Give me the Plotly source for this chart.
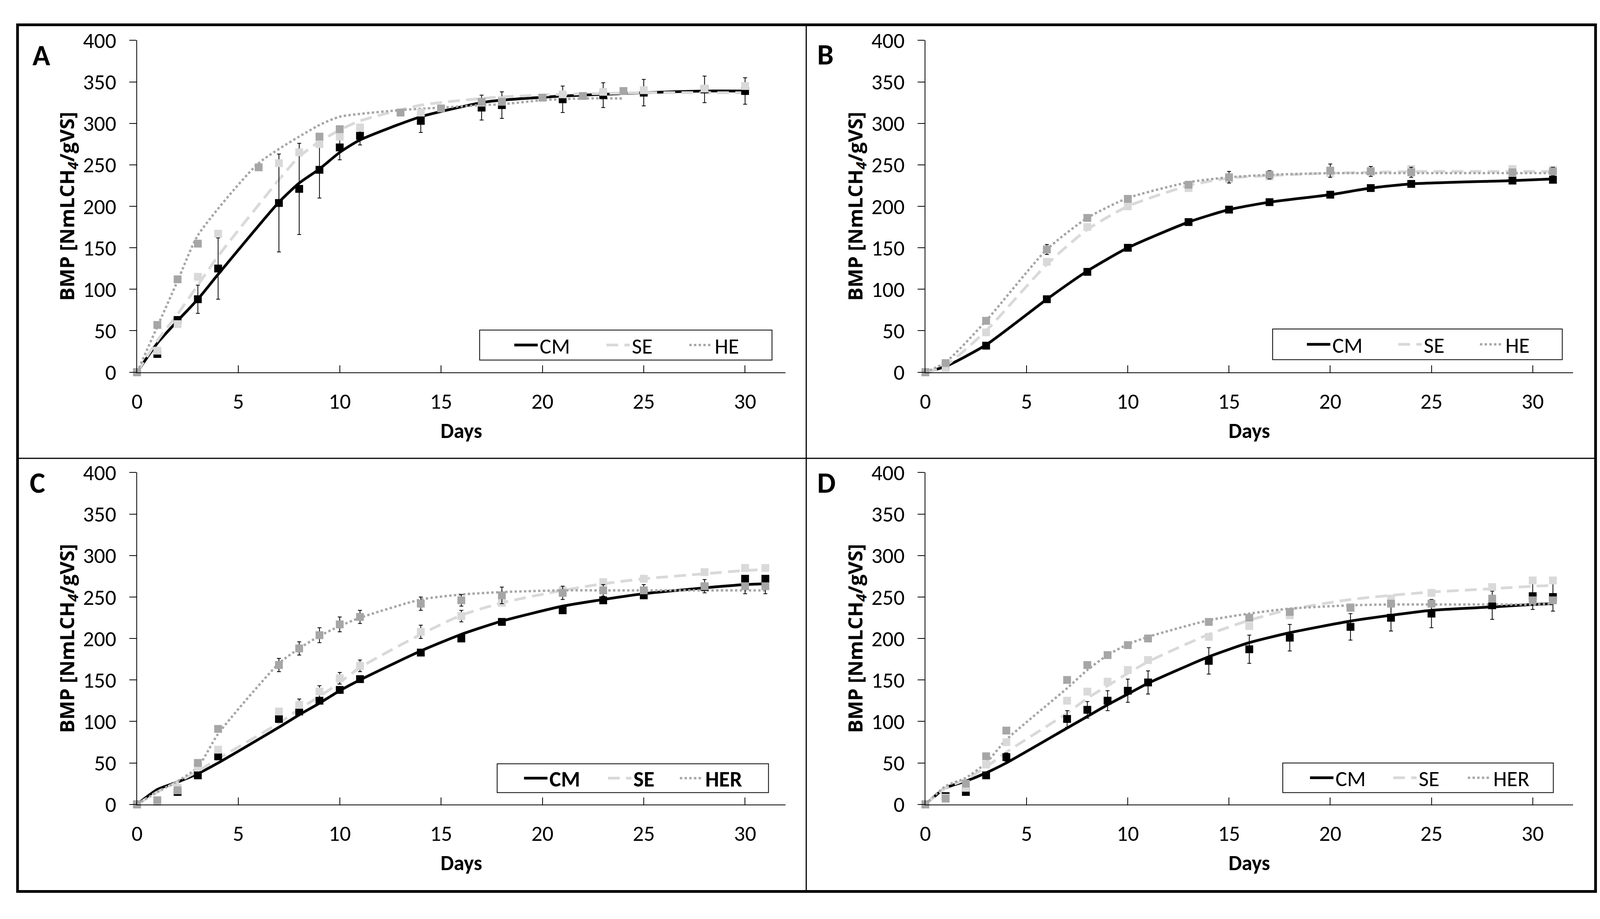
import plotly.graph_objects as go

W, H = 4126, 2352

# ---------------- DATA ----------------
# Panel A
a_days = [0, 1, 2, 3, 4, 7, 8, 9, 10, 11, 14, 17, 18, 21, 23, 25, 28, 30]
a_cm = [0, 22, 63, 88, 125, 204, 221, 244, 271, 285, 303, 319, 322, 329, 334, 337, 341, 339]
a_cm_err = [0, 0, 0, 17, 37, 59, 55, 34, 15, 11, 14, 15, 16, 16, 15, 16, 16, 16]
a_cm_fit = [0, 35, 62, 88, 118, 205, 228, 245, 265, 280, 308, 325, 328, 333, 335, 337, 339, 339]
a_se = [0, 26, 58, 115, 167, 252, 265, 275, 284, 295, 313, 325, 328, 335, 338, 340, 342, 345]
a_se_fit = [0, 38, 70, 105, 140, 232, 260, 278, 292, 303, 322, 330, 332, 335, 336, 337, 337, 337]
a_he_days = [0, 1, 2, 3, 6, 9, 10, 13, 15, 17, 18, 20, 22, 24]
a_he = [0, 57, 112, 155, 247, 284, 293, 313, 318, 326, 326, 331, 333, 339]
a_he_fit = [0, 55, 110, 165, 252, 298, 308, 316, 319, 322, 323, 328, 330, 330]

# Panel B
b_days = [0, 1, 3, 6, 8, 10, 13, 15, 17, 20, 22, 24, 29, 31]
b_cm = [0, 8, 32, 88, 121, 150, 181, 196, 205, 214, 222, 227, 231, 232]
b_cm_fit = [0, 7, 33, 88, 122, 150, 181, 196, 205, 214, 222, 227, 231, 233]
b_se = [0, 5, 48, 133, 175, 200, 222, 233, 236, 240, 243, 245, 245, 244]
b_se_fit = [0, 8, 50, 130, 172, 200, 225, 234, 237, 240, 241, 242, 242, 242]
b_he = [0, 11, 62, 148, 186, 209, 226, 235, 238, 243, 242, 241, 241, 242]
b_he_err = [0, 0, 0, 6, 3, 4, 3, 7, 5, 8, 6, 6, 4, 5]
b_he_fit = [0, 12, 62, 148, 186, 210, 229, 235, 238, 240, 240, 240, 240, 240]

# Panel C
c_days = [0, 1, 2, 3, 4, 7, 8, 9, 10, 11, 14, 16, 18, 21, 23, 25, 28, 30, 31]
c_cm = [0, -1, 15, 35, 58, 103, 112, 125, 138, 151, 183, 200, 220, 234, 246, 252, 262, 272, 272]
c_cm_fit = [0, 18, 27, 37, 50, 93, 108, 122, 137, 150, 185, 205, 221, 239, 247, 254, 261, 265, 266]
c_se = [0, 3, 20, 45, 66, 112, 120, 136, 152, 167, 208, 227, 243, 258, 268, 272, 280, 285, 285]
c_se_err = [0, 0, 0, 0, 0, 0, 7, 7, 7, 7, 8, 7, 0, 0, 0, 0, 0, 0, 0]
c_se_fit = [0, 15, 27, 40, 55, 98, 115, 130, 147, 165, 205, 228, 243, 258, 266, 272, 278, 282, 283]
c_her = [0, 5, 17, 50, 91, 168, 188, 204, 217, 226, 242, 246, 252, 255, 258, 258, 263, 263, 263]
c_her_err = [0, 0, 0, 0, 0, 8, 8, 9, 9, 8, 8, 7, 10, 8, 7, 7, 8, 9, 9]
c_her_fit = [0, 15, 28, 45, 85, 170, 188, 203, 215, 225, 247, 253, 256, 258, 258, 258, 258, 258, 258]

# Panel D
d_days = [0, 1, 2, 3, 4, 7, 8, 9, 10, 11, 14, 16, 18, 21, 23, 25, 28, 30, 31]
d_cm = [0, 10, 15, 35, 57, 103, 114, 125, 137, 147, 173, 187, 201, 214, 225, 230, 240, 251, 250]
d_cm_err = [0, 0, 0, 0, 5, 10, 10, 12, 14, 14, 16, 17, 16, 16, 16, 17, 17, 16, 17]
d_cm_fit = [0, 20, 28, 38, 50, 92, 106, 120, 133, 146, 178, 195, 207, 221, 228, 234, 238, 241, 242]
d_se = [0, 8, 20, 48, 75, 125, 136, 148, 162, 174, 202, 215, 228, 238, 248, 255, 262, 270, 270]
d_se_fit = [0, 20, 30, 45, 63, 110, 128, 143, 158, 172, 205, 222, 235, 247, 252, 256, 260, 263, 264]
d_her = [0, 7, 25, 58, 89, 150, 168, 180, 192, 200, 220, 225, 232, 237, 242, 242, 248, 246, 246]
d_her_fit = [0, 22, 32, 50, 78, 140, 162, 180, 193, 202, 222, 230, 236, 240, 241, 241, 241, 241, 242]

x_ticks = [0, 5, 10, 15, 20, 25, 30]
panel_letters = ["A", "B", "C", "D"]
x_title = "Days"
y_title = "BMP [NmLCH<sub><i>4</i></sub>/gVS]"

# ---------------- STYLE ----------------
FONT = "Carlito, Lato, sans-serif"
YT_FONT = "Open Sans, Lato, sans-serif"
C_CM, C_SE, C_HE = "#000000", "#d9d9d9", "#a6a6a6"


def px_x(p):
    return p / W


def px_y(p):
    return 1 - p / H


# plot area pixel boxes: (left, right, top(y=400), bottom(y=0))
boxes = {
    1: (338, 2004, 72.5, 947),
    2: (2363, 4027, 72.5, 947),
    3: (338, 2004, 1211.5, 2086),
    4: (2363, 4027, 1211.5, 2086),
}

# legend frames (px): left, right, top, bottom ; legend origin x ; entry widths
panels = [
    dict(n=1, names=("CM", "SE", "HE"),
         cm=(a_days, a_cm, a_cm_err, a_cm_fit),
         se=(a_days, a_se, None, a_se_fit),
         he=(a_he_days, a_he, None, a_he_fit), bold=False,
         lbox=(1218, 1969, 836, 915), lx=1302, lw=(161, 137, 130)),
    dict(n=2, names=("CM", "SE", "HE"),
         cm=(b_days, b_cm, None, b_cm_fit),
         se=(b_days, b_se, None, b_se_fit),
         he=(b_days, b_he, b_he_err, b_he_fit), bold=False,
         lbox=(3255, 3999, 833, 914), lx=3338, lw=(159, 134, 130)),
    dict(n=3, names=("CM", "SE", "HER"),
         cm=(c_days, c_cm, None, c_cm_fit),
         se=(c_days, c_se, c_se_err, c_se_fit),
         he=(c_days, c_her, c_her_err, c_her_fit), bold=True,
         lbox=(1263, 1960, 1979, 2055), lx=1327, lw=(140, 109, 130)),
    dict(n=4, names=("CM", "SE", "HER"),
         cm=(d_days, d_cm, d_cm_err, d_cm_fit),
         se=(d_days, d_se, None, d_se_fit),
         he=(d_days, d_her, None, d_her_fit), bold=False,
         lbox=(3281, 3976, 1977, 2055), lx=3346, lw=(138, 116, 130)),
]

fig = go.Figure()
layout = dict(
    width=W, height=H, autosize=False,
    margin=dict(l=0, r=0, t=0, b=0),
    paper_bgcolor="white", plot_bgcolor="white",
    font=dict(family=FONT, color="black", size=56),
    showlegend=True,
)

annotations = []
shapes = []
line_styles = {
    "cm": dict(color=C_CM, width=7, dash="solid"),
    "se": dict(color=C_SE, width=7, dash="30px,16px"),
    "he": dict(color=C_HE, width=6, dash="dot"),
}
marker_colors = {"cm": C_CM, "se": C_SE, "he": C_HE}

for p in panels:
    n = p["n"]
    sfx = "" if n == 1 else str(n)
    xa, ya = "x" + sfx, "y" + sfx
    leg = "legend" if n == 1 else "legend" + str(n)
    l, r, t, b = boxes[n]

    # fitted curves (legend entries)
    for key, name, lw in zip(("cm", "se", "he"), p["names"], p["lw"]):
        days, vals, err, fit = p[key]
        fig.add_trace(go.Scatter(
            x=days, y=fit, mode="lines", name=name, xaxis=xa, yaxis=ya,
            line=dict(shape="spline", smoothing=0.6, **line_styles[key]),
            legend=leg, legendwidth=lw, showlegend=True, cliponaxis=False,
            hoverinfo="skip"))
    # measured points
    for key in ("cm", "se", "he"):
        days, vals, err, fit = p[key]
        tr = dict(x=days, y=vals, mode="markers", xaxis=xa, yaxis=ya,
                  marker=dict(symbol="square", size=20, color=marker_colors[key],
                              line=dict(width=0)),
                  showlegend=False, cliponaxis=False)
        if err is not None:
            tr["error_y"] = dict(type="data", array=err, visible=True,
                                 color="black", thickness=2, width=5)
        fig.add_trace(go.Scatter(**tr))

    layout["xaxis" + sfx] = dict(
        domain=[px_x(l), px_x(r)], anchor=ya, range=[0, 32],
        tickvals=x_ticks, ticks="inside", ticklen=18, tickwidth=2,
        tickcolor="black", showline=True, linecolor="black", linewidth=2,
        showgrid=False, zeroline=False, ticklabelstandoff=24,
        tickfont=dict(family=FONT, size=56, color="black"),
        title=dict(text=x_title, standoff=23,
                   font=dict(family=FONT, size=54, color="black", weight="bold")))
    layout["yaxis" + sfx] = dict(
        domain=[px_y(b), px_y(t)], anchor=xa, range=[0, 400],
        dtick=50, tick0=0, ticks="outside", ticklen=18, tickwidth=2,
        tickcolor="black", showline=True, linecolor="black", linewidth=2,
        showgrid=False, zeroline=False, ticklabelstandoff=22,
        tickfont=dict(family=FONT, size=56, color="black"),
        title=dict(text="<b>%s</b>" % y_title, standoff=6,
                   font=dict(family=YT_FONT, size=51, color="black")))

    bl, br, bt, bb = p["lbox"]
    shapes.append(dict(type="rect", xref="paper", yref="paper", layer="above",
                       x0=px_x(bl), x1=px_x(br), y0=px_y(bb), y1=px_y(bt),
                       fillcolor="white", line=dict(color="black", width=2)))
    layout[leg] = dict(
        orientation="h", x=px_x(p["lx"]), y=px_y((bt + bb) / 2),
        xanchor="left", yanchor="middle", xref="paper", yref="paper",
        borderwidth=0, bgcolor="rgba(0,0,0,0)",
        itemwidth=60, traceorder="normal",
        font=dict(family=FONT, size=56, color="black",
                  weight="bold" if p["bold"] else "normal"))

    # panel letter
    letter_pos = {1: (92, 112), 2: (2106, 110), 3: (82, 1238), 4: (2109, 1238)}[n]
    annotations.append(dict(
        text=panel_letters[n - 1], x=px_x(letter_pos[0]),
        y=px_y(letter_pos[1]), xref="paper", yref="paper", showarrow=False,
        xanchor="center", yanchor="middle",
        font=dict(family=FONT, size=75, color="black", weight="bold")))

shapes += [
    dict(type="rect", xref="paper", yref="paper", x0=px_x(31), x1=px_x(4084.5),
         y0=px_y(2315.5), y1=px_y(31.5), line=dict(color="black", width=7)),
    dict(type="line", xref="paper", yref="paper", x0=px_x(2057), x1=px_x(2057),
         y0=px_y(2315.5), y1=px_y(31.5), line=dict(color="black", width=3)),
    dict(type="line", xref="paper", yref="paper", x0=px_x(31), x1=px_x(4084.5),
         y0=px_y(1174), y1=px_y(1174), line=dict(color="black", width=3)),
]

layout["annotations"] = annotations
layout["shapes"] = shapes
fig.update_layout(**layout)
fig.write_html("out.html", post_script="document.body.style.margin='0';",
               config={"displayModeBar": False})
